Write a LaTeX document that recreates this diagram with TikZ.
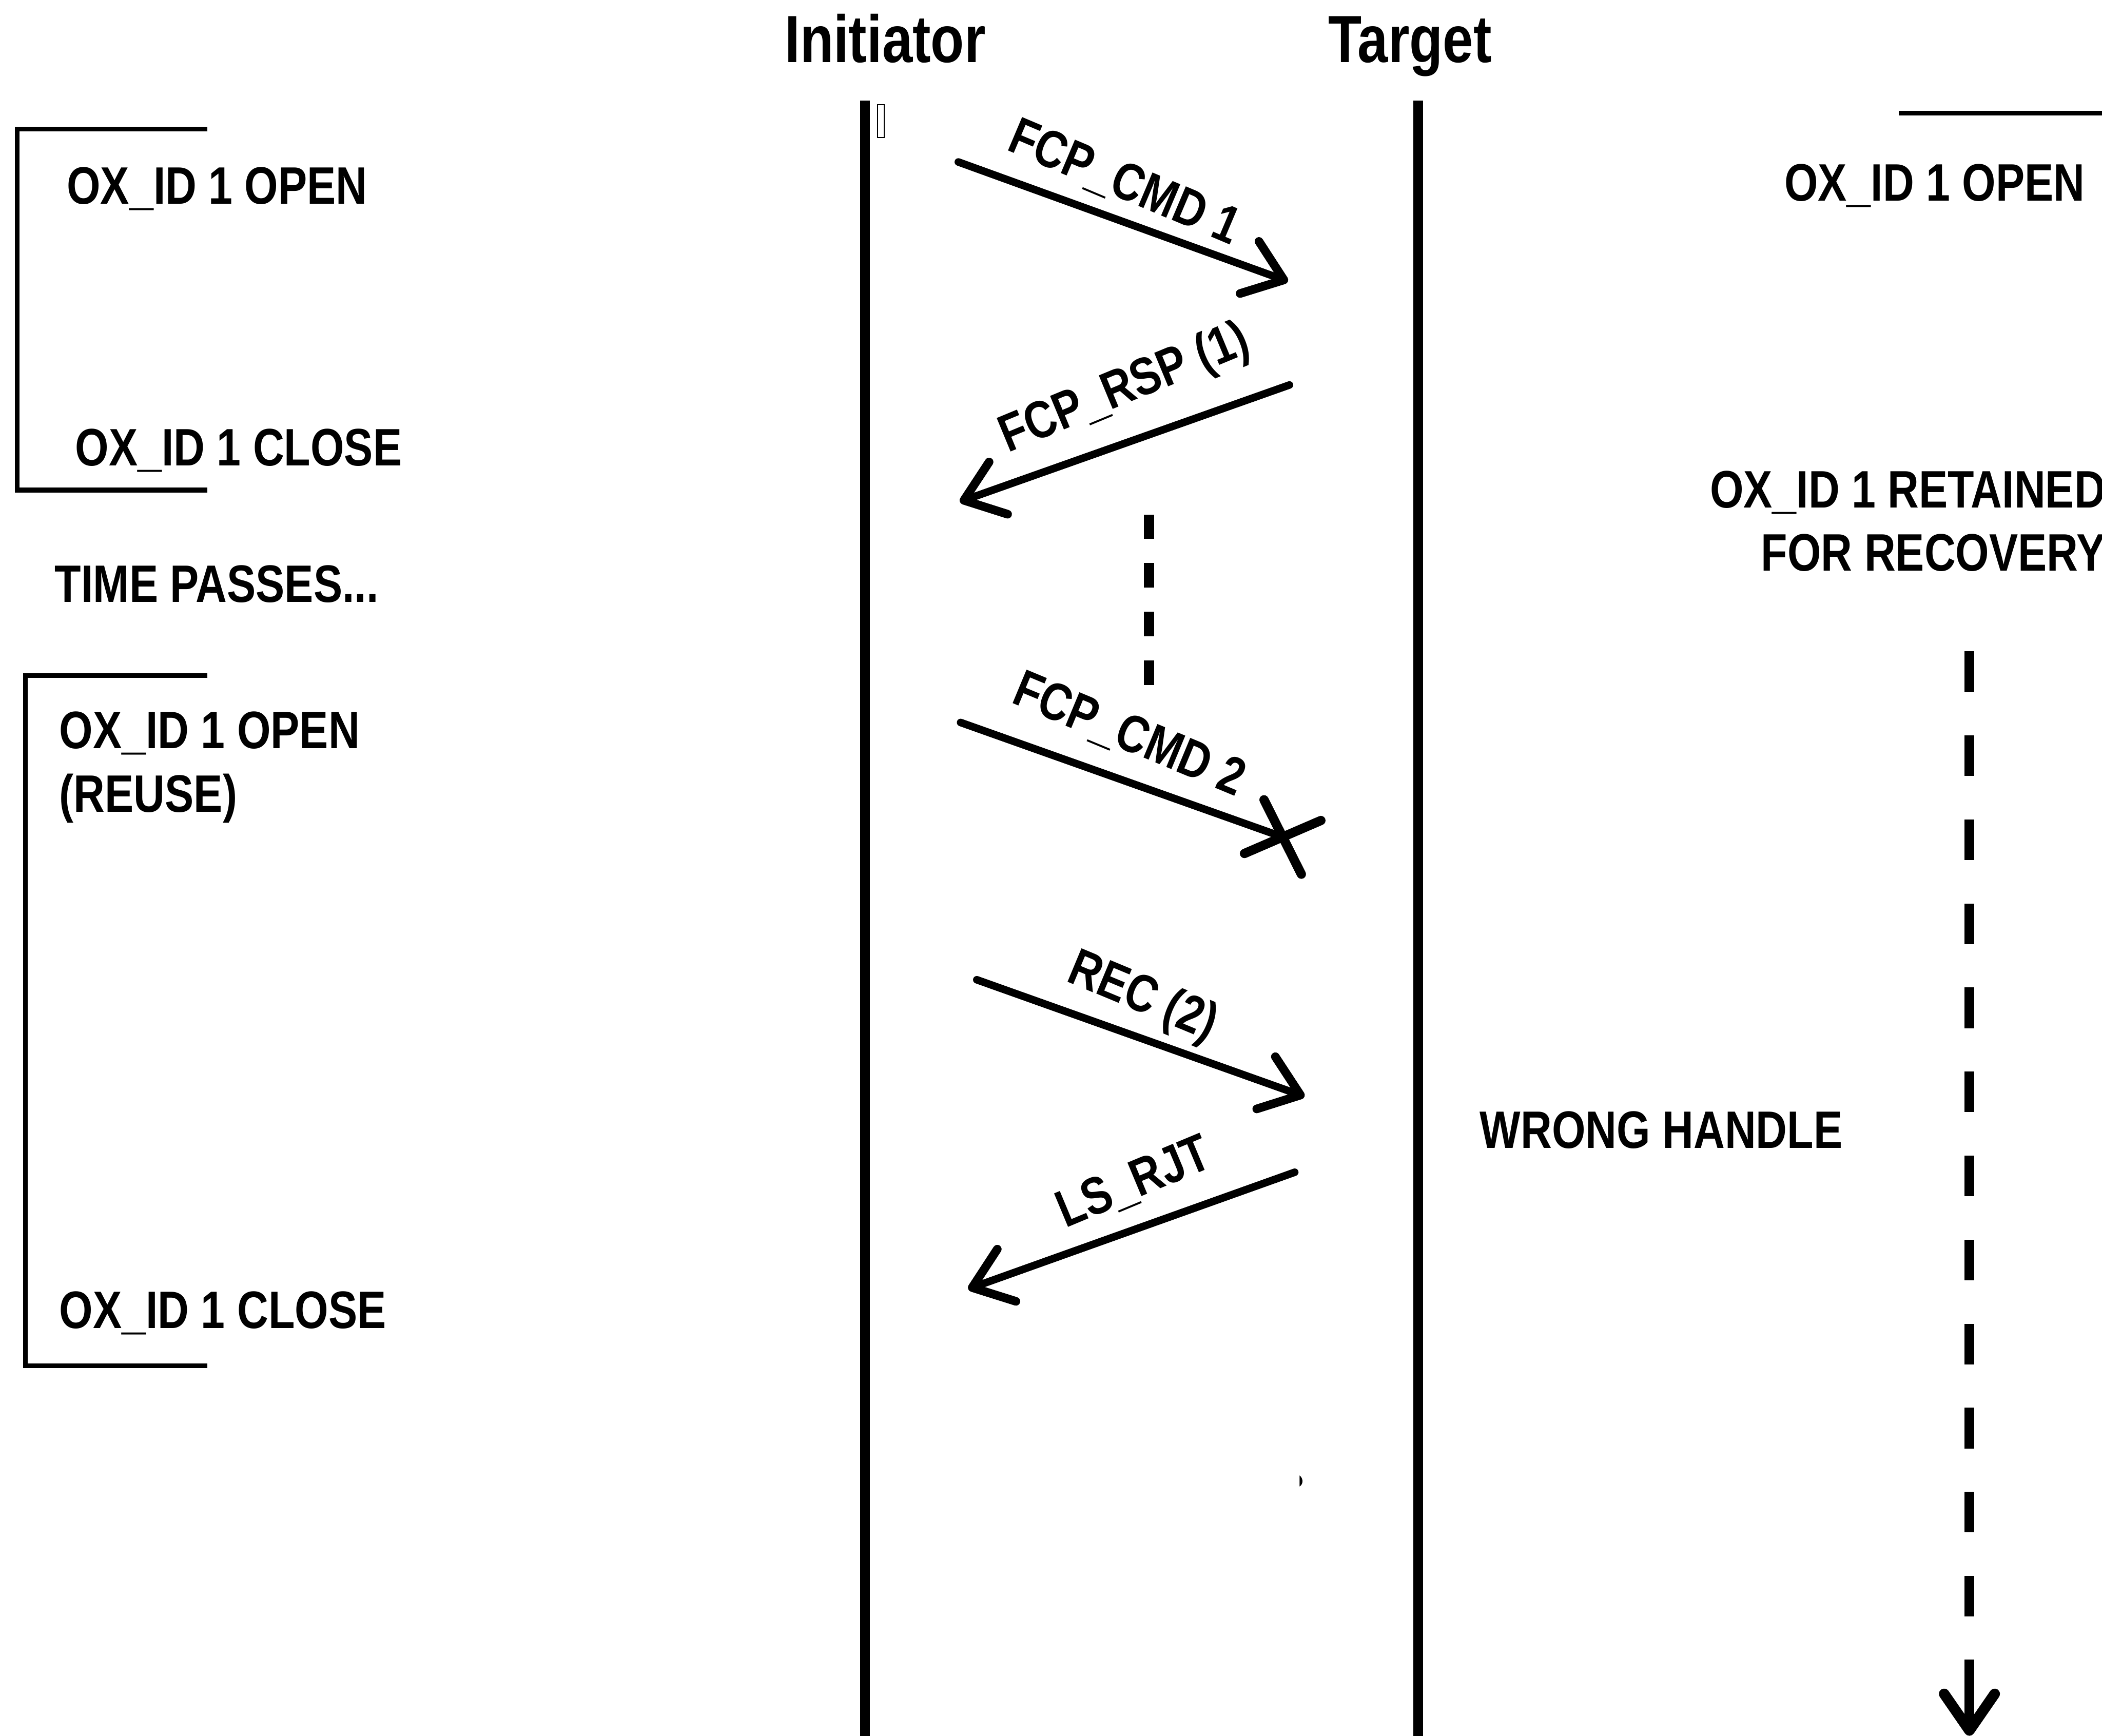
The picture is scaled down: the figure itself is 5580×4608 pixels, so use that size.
\documentclass[tikz,border=0pt]{standalone}
\usepackage{fontspec}
\newfontfamily\narrowsans{Liberation Sans}[FakeStretch=0.82]
\usetikzlibrary{arrows.meta,shapes.misc}
\tikzset{
  life/.style={line width=7.4pt},
  msg/.style={line width=5.7pt, line cap=round,
    -{Straight Barb[length=0.97cm, width=1.47cm, line width=6.5pt, round]}},
  brk/.style={line width=3.5pt},
  wait/.style={line width=7.7pt, dash pattern=on 0.65cm off 0.64cm},
  keep/.style={line width=7.4pt, dash pattern=on 1.08cm off 1.15cm},
  keepend/.style={line width=7.4pt,
    -{Straight Barb[length=0.97cm, width=1.34cm, line width=8pt, round]}},
  lbl/.style={font=\narrowsans\bfseries\fontsize{39.8}{47.8}\selectfont, inner sep=0pt},
  head/.style={font=\narrowsans\bfseries\fontsize{50.4}{60}\selectfont, inner sep=0pt},
  mlbl/.style={lbl, sloped},
  lost/.style={cross out, draw, line width=7pt, line cap=round,
    minimum width=1.36cm, minimum height=1.27cm, inner sep=0pt, rotate=-20},
}
\begin{document}
\begin{tikzpicture}[x=0.01cm, y=-0.01cm]
  \useasboundingbox (0,0) rectangle (5580,4608);
  % lifelines
  \node[head, anchor=base] (ini) at (2350,165) {Initiator};
  \node[head, anchor=base] (tgt) at (3743,165) {Target};
  \coordinate (iniTop) at (2296,267);
  \coordinate (iniBot) at (2296,4620);
  \coordinate (tgtTop) at (3765,267);
  \coordinate (tgtBot) at (3765,4620);
  \draw[life] (iniTop) -- (iniBot);
  \draw[life] (tgtTop) -- (tgtBot);
  \draw[line width=0.8pt] (2330,278) rectangle (2347,365);
  % messages
  \coordinate (m1a) at (2544,430);  \coordinate (m1b) at (3419,747);
  \coordinate (m2a) at (3423,1022); \coordinate (m2b) at (2548,1332);
  \coordinate (m3a) at (2550,1918);
  \node[lost] (lost) at (3405,2222) {};
  \coordinate (m4a) at (2593,2601); \coordinate (m4b) at (3463,2911);
  \coordinate (m5a) at (3437,3112); \coordinate (m5b) at (2570,3422);
  \draw[msg] (m1a) -- node[mlbl, pos=0.46, rotate=-3, above=0.29cm] {FCP\_CMD 1} (m1b);
  \draw[msg] (m2a) -- node[mlbl, pos=0.44, rotate=3, above=0.59cm] {FCP\_RSP (1)} (m2b);
  \draw[line width=5.7pt, line cap=round] (m3a) -- node[mlbl, pos=0.47, rotate=-3, above=0.5cm] {FCP\_CMD 2} (lost.center);
  \draw[msg] (m4a) -- node[mlbl, pos=0.46, rotate=-3, above=0.26cm] {REC (2)} (m4b);
  \draw[msg] (m5a) -- node[mlbl, pos=0.44, rotate=3, above=0.49cm] {LS\_RJT} (m5b);
  % time passes
  \coordinate (gapTop) at (3050,1366);
  \coordinate (gapBot) at (3050,1818);
  \draw[wait] (gapTop) -- (gapBot);
  \fill (3450,3917) .. controls (3460,3925) and (3460,3940) .. (3450,3946) -- cycle;
  % initiator side
  \draw[brk] (551,343) -- (46,343) -- (46,1301) -- (551,1301);
  \node[lbl, anchor=base west] (open1) at (177,542) {OX\_ID 1 OPEN};
  \node[lbl, anchor=base west] (close1) at (199,1236) {OX\_ID 1 CLOSE};
  \node[lbl, anchor=base west] (pass) at (145,1599) {TIME PASSES...};
  \draw[brk] (551,1794) -- (67,1794) -- (67,3626) -- (551,3626);
  \node[lbl, anchor=north west, align=left] (open2) at (157,1889) {OX\_ID 1 OPEN\\(REUSE)};
  \node[lbl, anchor=base west] (close2) at (157,3526) {OX\_ID 1 CLOSE};
  % target side
  \draw[brk] (5041,300) -- (5600,300);
  \node[lbl, anchor=base east] (open3) at (5535,533) {OX\_ID 1 OPEN};
  \node[lbl, anchor=north east, align=right] (held) at (5590,1249) {OX\_ID 1 RETAINED\\FOR RECOVERY};
  \node[lbl, anchor=base west] (wrong) at (3928,3048) {WRONG HANDLE};
  \coordinate (keepTop) at (5228,1729);
  \coordinate (keepLast) at (5228,4400);
  \coordinate (keepLow) at (5228,4405);
  \coordinate (keepEnd) at (5228,4608);
  \draw[keep] (keepTop) -- (keepLast);
  \draw[keepend] (keepLow) -- (keepEnd);
\end{tikzpicture}
\end{document}
